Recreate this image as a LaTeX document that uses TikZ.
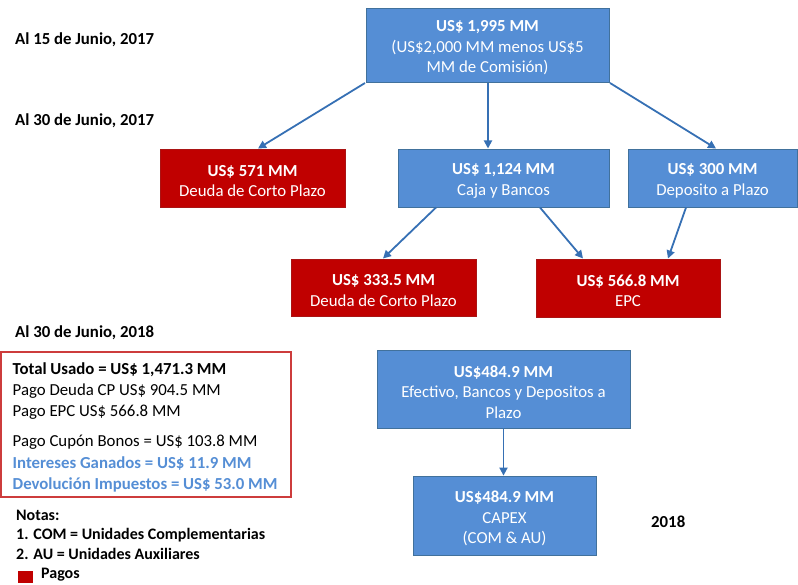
\documentclass[tikz,border=0pt]{standalone}
\usepackage{fontspec}
\setmainfont{Carlito}
\usetikzlibrary{arrows.meta}
\definecolor{bfill}{RGB}{85,142,213}
\definecolor{bdraw}{RGB}{65,113,156}
\definecolor{rfill}{RGB}{192,0,0}
\definecolor{rdraw}{RGB}{170,20,20}
\definecolor{arr}{RGB}{54,112,180}
\definecolor{nbord}{RGB}{205,60,60}
\definecolor{btext}{RGB}{85,142,213}
\tikzset{
  box/.style={draw, line width=0.8pt, inner sep=0pt},
  bluebox/.style={box, fill=bfill, draw=bdraw},
  redbox/.style={box, fill=rfill, draw=rdraw},
  btxt/.style={text=white, align=center, inner sep=0pt, font=\fontsize{16.8}{20.5}\selectfont},
  conn/.style={arr, line width=1.8pt, -{Triangle[length=8pt,width=8pt]}},
  lbl/.style={anchor=west, inner sep=0pt, yshift=-2.5pt, font=\fontsize{16.8}{19}\selectfont\bfseries},
  keyl/.style={anchor=west, inner sep=0pt, yshift=-2pt, font=\fontsize{16}{18}\selectfont\bfseries},
  note/.style={anchor=west, inner sep=0pt, yshift=-2.5pt, font=\fontsize{16.8}{19}\selectfont},
}
\begin{document}
\begin{tikzpicture}[x=1pt,y=-1pt]
\useasboundingbox (0,0) rectangle (798,585);
% boxes
\node[bluebox, minimum width=243pt, minimum height=74pt] (top) at (487.5,45) {};
\node[redbox, minimum width=185pt, minimum height=58pt] (r1) at (252.5,178) {};
\node[bluebox, minimum width=211pt, minimum height=58pt] (caja) at (503.5,178) {};
\node[bluebox, minimum width=169pt, minimum height=58pt] (dep) at (712.5,178) {};
\node[redbox, minimum width=185pt, minimum height=57pt] (r2) at (383.5,287.5) {};
\node[redbox, minimum width=184pt, minimum height=58pt] (epc) at (628,288) {};
\node[bluebox, minimum width=253pt, minimum height=78pt] (efe) at (503.5,389) {};
\node[bluebox, minimum width=183pt, minimum height=79pt] (capex) at (504.5,515.5) {};
% box texts
\node[btxt] (top-t) at ([yshift=-3pt]top.center) {\textbf{US\$ 1,995 MM}\\(US\$2,000 MM menos US\$5\\MM de Comisión)};
\node[btxt] (r1-t) at ([yshift=-3pt]r1.center) {\textbf{US\$ 571 MM}\\Deuda de Corto Plazo};
\node[btxt] (caja-t) at ([yshift=-3pt]caja.center) {\textbf{US\$ 1,124 MM}\\Caja y Bancos};
\node[btxt] (dep-t) at ([yshift=-3pt]dep.center) {\textbf{US\$ 300 MM}\\Deposito a Plazo};
\node[btxt] (r2-t) at ([yshift=-3pt]r2.center) {\textbf{US\$ 333.5 MM}\\Deuda de Corto Plazo};
\node[btxt] (epc-t) at ([yshift=-3pt]epc.center) {\textbf{US\$ 566.8 MM}\\EPC};
\node[btxt] (efe-t) at ([yshift=-3pt]efe.center) {\textbf{US\$484.9 MM}\\Efectivo, Bancos y Depositos a\\Plazo};
\node[btxt] (capex-t) at ([yshift=-3pt]capex.center) {\textbf{US\$484.9 MM}\\CAPEX\\(COM \& AU)};

\coordinate (t1) at (365,83);
\coordinate (t2) at (488,83);
\coordinate (t3) at (610,83);
\draw[conn] (t1) -- (258,148.5);
\draw[conn] (t2) -- (488,148.5);
\draw[conn] (t3) -- (716,148.5);
\draw[conn] (436,207.5) -- (383,258.5);
\draw[conn] (540,207.5) -- (583,258.5);
\draw[conn] (686,207.5) -- (668,258.5);
\draw[conn] (efe.south -| capex.north) ++(-1,0) -- ([xshift=-1pt]capex.north);

% labels
\node[lbl] (l1) at (15,37) {Al 15 de Junio, 2017};
\node[lbl] (l2) at (15,118) {Al 30 de Junio, 2017};
\node[lbl] (l3) at (15,330) {Al 30 de Junio, 2018};
\node[lbl] (l4) at (651,519) {2018};

% notes box
\node[draw=nbord, line width=1.3pt, minimum width=290pt, minimum height=145pt, inner sep=0pt] (nb) at (146,424.5) {};
\node[note, font=\fontsize{16.8}{19}\selectfont\bfseries] (n1) at (12.5,367) {Total Usado = US\$ 1,471.3 MM};
\node[note] (n2) at (12.5,389) {Pago Deuda CP US\$ 904.5 MM};
\node[note] (n3) at (12.5,410) {Pago EPC US\$ 566.8 MM};
\node[note] (n4) at (12.5,440) {Pago Cupón Bonos = US\$ 103.8 MM};
\node[note, text=btext, font=\fontsize{16.8}{19}\selectfont\bfseries] (n5) at (12.5,461) {Intereses Ganados = US\$ 11.9 MM};
\node[note, text=btext, font=\fontsize{16.8}{19}\selectfont\bfseries] (n6) at (12.5,482) {Devolución Impuestos = US\$ 53.0 MM};

\node[keyl] (k1) at (16,513) {Notas:};
\node[keyl] (k2) at (16,533) {1. COM = Unidades Complementarias};
\node[keyl] (k3) at (16,552) {2. AU = Unidades Auxiliares};
\node[fill=rfill, minimum width=15pt, minimum height=12pt, inner sep=0pt] (sq) at (25.5,577) {};
\node[keyl, yshift=2pt] (k4) at (41,575) {Pagos};
\end{tikzpicture}
\end{document}
